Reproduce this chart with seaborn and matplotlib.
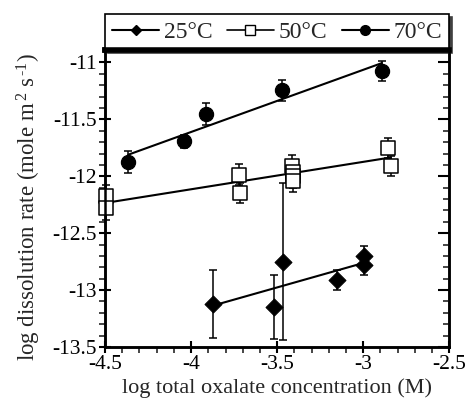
import numpy as np
import pandas as pd
import matplotlib
matplotlib.use("Agg")
import matplotlib.pyplot as plt
from matplotlib.lines import Line2D
import seaborn as sns

# 25 C
x25 = [-3.870, -3.516, -3.467, -3.153, -2.994, -2.994]
y25 = [-13.125, -13.15, -12.75, -12.91, -12.70, -12.78]
e25 = [0.30, 0.28, 0.69, 0.09, 0.09, 0.09]
fit25_x = [-3.870, -2.994]
fit25_y = [-13.135, -12.76]

# 50 C
x50 = [-4.494, -4.494, -3.721, -3.713, -3.415, -3.409, -3.405, -3.409, -2.853, -2.841]
y50 = [-12.175, -12.283, -11.985, -12.146, -11.91, -11.96, -12.00, -12.04, -11.751, -11.912]
e50 = [0.10, 0.10, 0.09, 0.09, 0.10, 0.10, 0.10, 0.10, 0.088, 0.088]
fit50_x = [-4.494, -2.841]
fit50_y = [-12.233, -11.835]

# 70 C
x70 = [-4.365, -4.041, -3.913, -3.469, -2.891]
y70 = [-11.874, -11.693, -11.45, -11.245, -11.073]
e70 = [0.095, 0.055, 0.095, 0.09, 0.09]
fit70_x = [-4.365, -2.891]
fit70_y = [-11.81, -11.005]

labels = ["25°C", "50°C", "70°C"]

sns.set_theme(style="ticks")
plt.rcParams["font.family"] = ["Liberation Serif", "DejaVu Serif"]
plt.rcParams["mathtext.fontset"] = "custom"
plt.rcParams["mathtext.rm"] = "Liberation Serif"
plt.rcParams["mathtext.it"] = "Liberation Serif:italic"
plt.rcParams["mathtext.bf"] = "Liberation Serif:bold"

fig = plt.figure(figsize=(4.65, 4.03), dpi=100)
ax = fig.add_axes([0.226, 0.139, 0.740, 0.737])

# fit lines
for fx, fy in [(fit25_x, fit25_y), (fit50_x, fit50_y), (fit70_x, fit70_y)]:
    sns.lineplot(x=fx, y=fy, ax=ax, color="black", lw=1.5, zorder=2)

# error bars
for xs, ys, es in [(x25, y25, e25), (x50, y50, e50), (x70, y70, e70)]:
    eb = ax.errorbar(xs, ys, yerr=es, fmt="none", ecolor="black", elinewidth=1.1,
                     capsize=3, capthick=1.1, zorder=3)
    for art in eb.lines[1] + eb.lines[2]:
        art.set_clip_on(False)

# markers
sns.scatterplot(x=x25, y=y25, ax=ax, marker="D", s=75, color="black",
                edgecolor="black", zorder=4, clip_on=False)
sns.scatterplot(x=x50, y=y50, ax=ax, marker="s", s=95, facecolor="white",
                edgecolor="black", linewidth=1.1, zorder=4, clip_on=False)
sns.scatterplot(x=x70, y=y70, ax=ax, marker="o", s=105, color="black",
                edgecolor="black", zorder=4, clip_on=False)

ax.set_xlim(-4.5, -2.5)
ax.set_ylim(-13.5, -10.89)
ax.set_xticks(np.arange(-4.5, -2.49, 0.5))
ax.set_yticks(np.arange(-13.5, -10.99, 0.5))
ax.set_xticks(np.arange(-4.5, -2.49, 0.1), minor=True)
ax.set_yticks(np.arange(-13.5, -10.99, 0.1), minor=True)
ax.set_xticklabels(["-4.5", "-4", "-3.5", "-3", "-2.5"])
ax.set_yticklabels(["-13.5", "-13", "-12.5", "-12", "-11.5", "-11"])
ax.tick_params(which="major", direction="inout", length=8, width=1.5,
               labelsize=15.5, colors="black", pad=2)
ax.tick_params(which="minor", direction="out", length=4, width=1.2)

# inward ticks on the right side
ax2 = ax.twinx()
ax2.set_ylim(ax.get_ylim())
ax2.set_yticks(np.arange(-13.5, -10.99, 0.5))
ax2.set_yticks(np.arange(-13.5, -10.99, 0.1), minor=True)
ax2.tick_params(which="major", direction="in", length=8, width=1.5,
                labelright=False, colors="black")
ax2.tick_params(which="minor", direction="in", length=4, width=1.2)
ax2.grid(False)

for a in (ax, ax2):
    for side in ["left", "bottom", "right"]:
        a.spines[side].set_linewidth(1.8)
        a.spines[side].set_color("black")
    a.spines["top"].set_visible(True)
    a.spines["top"].set_linewidth(4)
    a.spines["top"].set_color("black")

ax.set_xlabel("log total oxalate concentration (M)", fontsize=16, labelpad=3)
ax.set_ylabel("log dissolution rate (mole m$^{\\,2}$ s$^{\\,\u2010 1}$)", fontsize=16.5)
ax.yaxis.set_label_coords(-0.18, 0.47)

handles = [
    Line2D([], [], color="black", lw=1.5, marker="D", markersize=5.5),
    Line2D([], [], color="black", lw=1.2, marker="s", markersize=7,
           markerfacecolor="white", markeredgewidth=1.0),
    Line2D([], [], color="black", lw=1.5, marker="o", markersize=7),
]
leg = ax.legend(handles, labels, ncol=3, loc="lower left",
                bbox_to_anchor=(0.0, 1.0, 1.0, 0.14), mode="expand",
                borderaxespad=0.0, fancybox=False,
                shadow={"color": "0.25", "alpha": 1.0},
                edgecolor="black", fontsize=17, handlelength=2.0,
                handletextpad=0.2, columnspacing=1.0, borderpad=0.3,
                framealpha=1)
leg.get_frame().set_linewidth(1.2)
leg.set_zorder(10)

fig.savefig("out.png", dpi=100)
